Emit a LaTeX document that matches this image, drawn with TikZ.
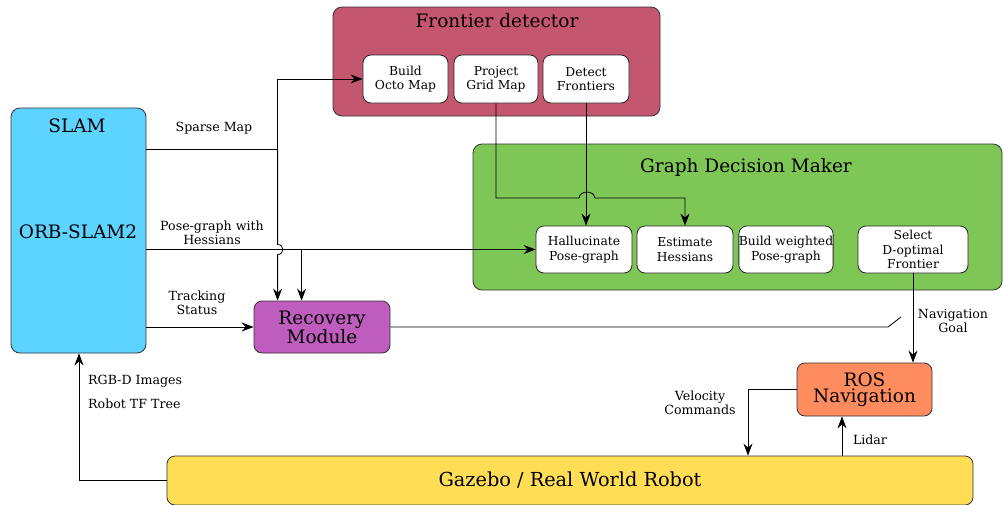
\documentclass[tikz,border=0pt]{standalone}
\usepackage{fontspec}
\setmainfont{DejaVu Serif}
\usetikzlibrary{arrows.meta,calc}
\definecolor{fdcol}{RGB}{197,86,111}
\definecolor{slamcol}{RGB}{93,211,255}
\definecolor{gdmcol}{RGB}{126,198,85}
\definecolor{reccol}{RGB}{191,93,190}
\definecolor{roscol}{RGB}{255,140,94}
\definecolor{gazcol}{RGB}{255,221,85}
\tikzset{
  bigbox/.style={draw=black!80, line width=0.8pt, rounded corners=9pt, inner sep=0pt},
  inbox/.style={draw=black!85, line width=0.8pt, fill=white, rounded corners=8pt, inner sep=0pt, align=center,
    font=\fontsize{12.3}{14.5}\selectfont},
  title/.style={font=\fontsize{18.5}{20}\selectfont, inner sep=0pt},
  bigtext/.style={align=center, font=\fontsize{18.5}{16.5}\selectfont},
  lab/.style={align=center, inner sep=0pt, font=\fontsize{12.6}{13.5}\selectfont},
  arr/.style={-{Stealth[length=12pt,width=9pt,inset=4pt]}, line width=0.8pt},
  ln/.style={line width=0.8pt}
}
\begin{document}
\begin{tikzpicture}[x=1pt,y=-1pt]
\useasboundingbox (0,0) rectangle (1004,504);
% Frontier detector
\node[bigbox, fill=fdcol, minimum width=327pt, minimum height=109pt] (fd) at (496.5,61.5) {};
\node[title] (fdt) at (497,21) {Frontier detector};
\node[inbox, minimum width=85pt, minimum height=48pt] (bom) at (405.5,79) {Build\\Octo Map};
\node[inbox, minimum width=84pt, minimum height=48pt] (pgm) at (496,79) {Project\\Grid Map};
\node[inbox, minimum width=86pt, minimum height=48pt] (dfr) at (586,79) {Detect\\Frontiers};
% SLAM
\node[bigbox, fill=slamcol, minimum width=135pt, minimum height=245pt] (slam) at (78.5,230.5) {};
\node[title] (slamt) at (77,126) {SLAM};
\node[title] (orb) at (78,232) {ORB-SLAM2};
% Graph decision maker
\node[bigbox, fill=gdmcol, minimum width=529pt, minimum height=146pt] (gdm) at (737.5,217) {};
\node[title] (gdmt) at (746,167) {Graph Decision Maker};
\node[inbox, minimum width=96pt, minimum height=47pt] (hal) at (584,249.5) {Hallucinate\\Pose-graph};
\node[inbox, minimum width=96pt, minimum height=47pt] (est) at (685,249.5) {Estimate\\Hessians};
\node[inbox, minimum width=94pt, minimum height=47pt] (bwp) at (786,249.5) {Build weighted\\Pose-graph};
\node[inbox, minimum width=110pt, minimum height=47pt] (sel) at (913,249.5) {Select\\D-optimal\\Frontier};
% Recovery, ROS, Gazebo
\node[bigbox, fill=reccol, rounded corners=8pt, minimum width=136pt, minimum height=52pt, bigtext] (rec) at (322,327) {Recovery\\Module};
\node[bigbox, fill=roscol, rounded corners=8pt, minimum width=135pt, minimum height=53pt, bigtext] (ros) at (864.5,389.5) {ROS\\Navigation};
\node[bigbox, fill=gazcol, rounded corners=8pt, minimum width=806pt, minimum height=49pt, bigtext, font=\fontsize{19.3}{20}\selectfont] (gaz) at (570,480.5) {Gazebo / Real World Robot};
% coordinates
\coordinate (sm) at ($(slam.north east)+(0,42)$);
\coordinate (j1) at ($(rec.north west)+(24,0)$);
\coordinate (j2) at ($(rec.north west)+(48,0)$);
\coordinate (recend) at (888,327);
\coordinate (recfree) at (901,317);
\coordinate (velx) at (748,0);
\coordinate (lidx) at (842,0);
\coordinate (rgbx) at (79,0);
% Sparse map
\draw[ln] (sm) -- (sm -| j1);
\draw[arr] (sm -| j1) -- (j1 |- bom.west) -- (bom.west);
\draw[arr] (sm -| j1) -- ($(j1 |- hal.west)+(0,-5)$) .. controls ($(j1 |- hal.west)+(7,-5)$) and ($(j1 |- hal.west)+(7,5)$) .. ($(j1 |- hal.west)+(0,5)$) -- (j1);
% Pose graph
\draw[arr] (slam.east |- hal.west) -- (hal.west);
\draw[arr] (j2 |- hal.west) -- (j2);
% Tracking
\draw[arr] (slam.east |- rec.west) -- (rec.west);
% Recovery out
\draw[ln] (rec.east) -- (recend) -- (recfree);
% Frontier to GDM
\draw[arr] (pgm.south) -- (pgm.south |- 0,198) -- (579,198) .. controls (580,190) and (594,190) .. (595,198) -- (est.north |- 0,198) -- (est.north);
\draw[arr] (dfr.south) -- (dfr.south |- hal.north);
% Navigation goal
\draw[arr] (sel.south) -- (sel.south |- ros.north);
% ROS <-> Gazebo
\draw[arr] (ros.west) -- (velx |- ros.west) -- (velx |- gaz.north);
\draw[arr] (lidx |- gaz.north) -- (lidx |- ros.south);
% Gazebo -> SLAM
\draw[arr] (gaz.west) -- (rgbx |- gaz.west) -- (rgbx |- slam.south);
% labels
\node[lab] (l1) at (214,128) {Sparse Map};
\node[lab] (l2) at (212,233) {Pose-graph with\\Hessians};
\node[lab] (l3) at (197,303) {Tracking\\Status};
\node[lab, anchor=west] (l4) at (88,381) {RGB-D Images};
\node[lab, anchor=west] (l5) at (88,404) {Robot TF Tree};
\node[lab] (l6) at (953,321) {Navigation\\Goal};
\node[lab] (l7) at (700,403) {Velocity\\Commands};
\node[lab] (l8) at (870,440) {Lidar};
\end{tikzpicture}
\end{document}
